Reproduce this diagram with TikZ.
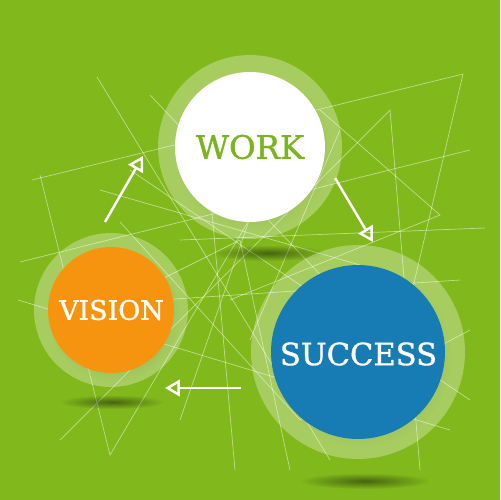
\documentclass[tikz,border=0pt]{standalone}
\usepackage{fontspec}
\setmainfont[FakeBold=1.2,AutoFakeBold=1.2]{DejaVu Serif}
\usetikzlibrary{positioning,arrows.meta,fadings}
\definecolor{bggreen}{RGB}{129,184,28}
\definecolor{workgreen}{RGB}{122,181,29}
\definecolor{visionorange}{RGB}{247,148,15}
\definecolor{successblue}{RGB}{23,124,180}
\tikzfading[name=softshade, inner color=transparent!0, outer color=transparent!100]

\begin{document}
\begin{tikzpicture}[x=0.02cm,y=-0.02cm]
\tikzstyle{every node}+=[inner sep=0pt]
\tikzstyle{ring}=[circle, fill=white, fill opacity=0.3]
\tikzstyle{disc}=[circle, text opacity=1]
\tikzstyle{web}=[white, opacity=0.5, line width=0.4pt]
\tikzstyle{shade}=[black, opacity=0.45, path fading=softshade]
\tikzstyle{flow}=[white, line width=1.4pt, -{Triangle[open, length=8.5pt, width=9.5pt]}]
\fill [bggreen] (0,0) rectangle (500,500);
\useasboundingbox (0,0) rectangle (500,500);
% crossing lines behind
\draw [web] (32,180) -- (463,74) -- (410,300);
\draw [web] (97,77) -- (330,460);
\draw [web] (40,175) -- (110,455) -- (255,210);
\draw [web] (60,440) -- (390,110) -- (420,470);
\draw [web] (18,300) -- (450,430);
\draw [web] (180,240) -- (485,228);
\draw [web] (20,262) -- (470,150);
\draw [web] (130,170) -- (470,400);
\draw [web] (235,470) -- (210,190);
\draw [web] (160,300) -- (460,280);
\draw [web] (120,222) -- (300,420) -- (470,330);
\draw [web] (250,340) -- (340,130);
\draw [web] (60,330) -- (240,240) -- (290,470);
\draw [web] (150,95) -- (420,380);
\draw [web] (270,160) -- (180,420);
\draw [web] (320,110) -- (440,215) -- (230,300);
\draw [web] (100,190) -- (360,265);
% shadows under the circles
\fill [shade] (268,253) ellipse (58 and 8);
\fill [shade] (112,402) ellipse (52 and 7);
\fill [shade] (365,481) ellipse (65 and 8);
% rings and discs
\node [ring, minimum size=3.68cm] (workring) at (250,147) {};
\node [ring, minimum size=3.08cm] (visionring) at (111,310) {};
\node [ring, minimum size=4.28cm] (successring) at (358,352) {};
\fill [shade, opacity=0.25] (253,152) circle (79);
\fill [shade, opacity=0.25] (114,315) circle (67);
\fill [shade, opacity=0.25] (361,357) circle (91);
\node [disc, fill=white, minimum size=3cm] (work) at (250,147) {};
\node [disc, fill=visionorange, minimum size=2.52cm] (vision) at (111,310) {};
\node [disc, fill=successblue, minimum size=3.48cm] (success) at (358,352) {};
\node [workgreen, font=\fontsize{18.4}{20}\selectfont\bfseries] (worklabel) at (250,147) {WORK};
\node [white, font=\fontsize{15.3}{18}\selectfont\bfseries] (visionlabel) at (111.5,310) {VISION};
\node [white, font=\fontsize{17.4}{20}\selectfont\bfseries] (successlabel) at (358.5,354) {SUCCESS};
% arrows of the cycle
\coordinate (vwstart) at (105,222);
\coordinate (vwend) at (143,156);
\coordinate (wsstart) at (335,178);
\coordinate (wsend) at (373,242);
\coordinate (svstart) at (241,388);
\coordinate (svend) at (165,388);
\draw [flow] (vwstart) -- (vwend);
\draw [flow] (wsstart) -- (wsend);
\draw [flow] (svstart) -- (svend);
\end{tikzpicture}
\end{document}
